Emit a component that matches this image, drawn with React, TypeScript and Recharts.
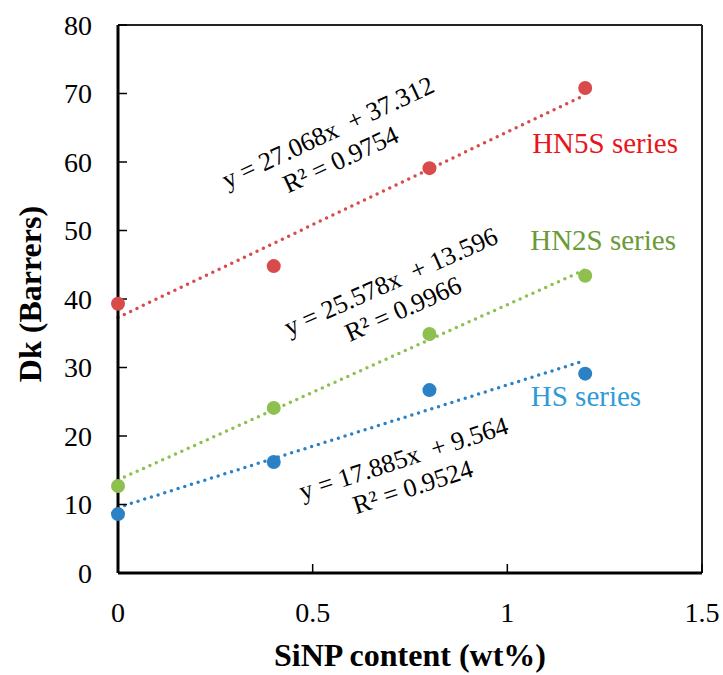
import React from 'react';
import {
  ComposedChart, Scatter, Line, XAxis, YAxis, ReferenceLine, ReferenceDot
} from 'recharts';

const silica = [0, 0.4, 0.8, 1.2];
const hn5s = [39.3, 44.8, 59.1, 70.8];
const hn2s = [12.7, 24.1, 34.9, 43.4];
const hs = [8.6, 16.2, 26.7, 29.1];

const slopes = [27.068, 25.578, 17.885];
const intercepts = [37.312, 13.596, 9.564];
const rSquared = ['0.9754', '0.9966', '0.9524'];

const xTicks = [0, 0.5, 1, 1.5];
const yTicks = [0, 10, 20, 30, 40, 50, 60, 70, 80];

const FONT = 'Liberation Serif, Tinos, DejaVu Serif, serif';

const series = [
  { name: 'HN5S series', values: hn5s, dot: '#D94A4B', text: '#E8161C', label: { x: 1.251, y: 62.8 }, eq: { x: 0.555, y: 62.4, angle: 25 } },
  { name: 'HN2S series', values: hn2s, dot: '#8DC04E', text: '#6B9A38', label: { x: 1.246, y: 48.6 }, eq: { x: 0.716, y: 40.6, angle: 24 } },
  { name: 'HS series', values: hs, dot: '#2A81C5', text: '#2F9AD8', label: { x: 1.202, y: 25.8 }, eq: { x: 0.745, y: 14.7, angle: 18 } },
];

const toPoints = (values: number[]) => silica.map((x, i) => ({ x, y: values[i] }));

const trend = (i: number) => {
  const xEnd = silica[silica.length - 1];
  return [
    { x: silica[0], y: intercepts[i] + slopes[i] * silica[0] },
    { x: xEnd, y: intercepts[i] + slopes[i] * xEnd },
  ];
};

const Equation = ({ cx, cy, angle, line1, line2 }: any) => (
  <text
    transform={`rotate(${-angle}, ${cx}, ${cy})`}
    textAnchor="middle"
    fontSize={26}
    fill="#000"
    style={{ whiteSpace: 'pre', fontFamily: FONT }}
  >
    <tspan x={cx} y={cy - 6}>{line1}</tspan>
    <tspan x={cx} y={cy + 24}>{line2}</tspan>
  </text>
);

export default function App() {
  return (
    <div style={{ position: 'absolute', left: 0, top: 0, fontFamily: FONT }}>
      <ComposedChart width={723} height={675} margin={{ top: 25, right: 21, left: 0, bottom: 0 }} style={{ fontFamily: FONT }}>
        <XAxis
          type="number"
          dataKey="x"
          domain={[0, 1.5]}
          ticks={xTicks}
          height={102}
          axisLine={{ stroke: '#000', strokeWidth: 3 }}
          tickLine={{ stroke: '#000', strokeWidth: 1.5 }}
          tickSize={-9}
          tickMargin={38}
          tick={{ fill: '#000', fontSize: 28, style: { fontFamily: FONT } }}
          label={{ value: 'SiNP content (wt%)', position: 'center', dy: 31, fill: '#000', fontSize: 32, fontWeight: 'bold', style: { fontFamily: FONT } }}
        />
        <YAxis
          type="number"
          dataKey="y"
          domain={[0, 80]}
          ticks={yTicks}
          width={118}
          axisLine={{ stroke: '#000', strokeWidth: 3 }}
          tickLine={{ stroke: '#000', strokeWidth: 1.5 }}
          tickSize={-9}
          tickMargin={35}
          tick={{ fill: '#000', fontSize: 28, style: { fontFamily: FONT } }}
          label={{ value: 'Dk (Barrers)', angle: -90, position: 'center', dx: -29, dy: -5, fill: '#000', fontSize: 32, fontWeight: 'bold', style: { fontFamily: FONT } }}
        />
        <ReferenceLine y={80} stroke="#222" strokeWidth={2} />
        <ReferenceLine x={1.5} stroke="#222" strokeWidth={2} />

        {series.map((s, i) => (
          <Line
            key={`trend-${s.name}`}
            data={trend(i)}
            dataKey="y"
            type="linear"
            stroke={s.dot}
            strokeWidth={3.5}
            strokeDasharray="0 7"
            strokeLinecap="round"
            dot={false}
            activeDot={false}
            legendType="none"
            isAnimationActive={false}
          />
        ))}
        {series.map((s) => (
          <Scatter
            key={`pts-${s.name}`}
            name={s.name}
            data={toPoints(s.values)}
            fill={s.dot}
            shape={(p: any) => <circle cx={p.cx} cy={p.cy} r={7} fill={s.dot} />}
            isAnimationActive={false}
          />
        ))}

        {series.map((s, i) => (
          <ReferenceDot
            key={`eq-${s.name}`}
            x={s.eq.x}
            y={s.eq.y}
            r={0}
            shape={(p: any) => (
              <Equation
                cx={p.cx}
                cy={p.cy}
                angle={s.eq.angle}
                line1={`y = ${slopes[i].toFixed(3)}x  + ${intercepts[i].toFixed(3)}`}
                line2={`R² = ${rSquared[i]}`}
              />
            )}
          />
        ))}
        {series.map((s) => (
          <ReferenceDot
            key={`lbl-${s.name}`}
            x={s.label.x}
            y={s.label.y}
            r={0}
            shape={(p: any) => (
              <text x={p.cx} y={p.cy + 10} textAnchor="middle" fontSize={29} fill={s.text} style={{ fontFamily: FONT }}>
                {s.name}
              </text>
            )}
          />
        ))}
      </ComposedChart>
    </div>
  );
}
